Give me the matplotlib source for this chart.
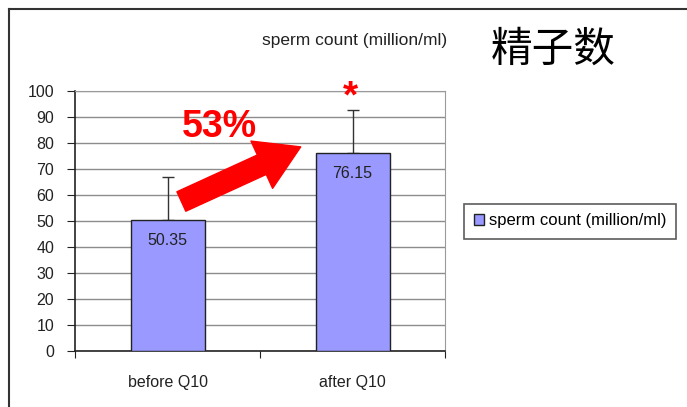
import matplotlib.pyplot as plt
from matplotlib.lines import Line2D

categories = ["before Q10", "after Q10"]
values = [50.35, 76.15]
errors_up = [16.6, 16.6]
yticks = list(range(0, 101, 10))
series_name = "sperm count (million/ml)"

plt.rcParams['font.family'] = ['Liberation Sans', 'DejaVu Sans']

fig = plt.figure(figsize=(6.87, 4.07), dpi=100)
ax = fig.add_axes([75 / 687, 56 / 407, 370 / 687, 260 / 407])

x = range(len(categories))
ax.bar(x, values, width=0.4, color='#9999ff', edgecolor='#222222',
       linewidth=1, label=series_name, zorder=3)
ax.errorbar(x, values, yerr=[[0] * len(values), errors_up], fmt='none',
            ecolor='#333333', elinewidth=1, capsize=4, capthick=1, zorder=2)

# value labels inside the bars
for xi, v in zip(x, values):
    ax.text(xi, v - 8, f"{v:.2f}", ha='center', va='center', fontsize=11.5,
            color='#222222', zorder=4)

ax.set_xlim(-0.5, 1.5)
ax.set_ylim(0, 100)
ax.set_yticks(yticks)
ax.set_xticks([-0.5, 0.5, 1.5])
ax.set_xticklabels([])
ax.set_xticks(list(x), minor=True)
ax.set_xticklabels(categories, minor=True, fontsize=11.5, color='#222222')
ax.tick_params(axis='x', which='minor', length=0, pad=17)
ax.tick_params(axis='x', which='major', direction='out', length=5, color='#222222')
ax.tick_params(axis='y', direction='out', length=6, color='#222222',
               labelsize=11.5, labelcolor='#222222', pad=9)
ax.yaxis.grid(True, color='#8c8c8c', linewidth=1, zorder=0)
ax.set_axisbelow(True)
for s in ['top', 'right']:
    ax.spines[s].set_color('#9a9a9a')
for s in ['left', 'bottom']:
    ax.spines[s].set_color('#222222')
    ax.spines[s].set_linewidth(1.2)

# annotations
ax.text(0.28, 86, "53%", color='#ff0000', fontsize=27, fontweight='bold',
        ha='center', va='center')
ax.text(0.99, 97.5, "*", color='#ff0000', fontsize=28, fontweight='bold',
        ha='center', va='center', clip_on=False)
ax.annotate("", xy=(0.72, 78.5), xytext=(0.075, 57.5),
            arrowprops=dict(arrowstyle='simple,head_length=1.4,head_width=1.7,tail_width=0.7',
                            color='#ff0000', mutation_scale=22, shrinkA=0, shrinkB=0),
            zorder=5)

fig.text(355 / 687, 1 - 40 / 407, series_name, ha='center', va='center',
         fontsize=12.5, color='#222222')
fig.text(553 / 687, 1 - 50 / 407, "精子数", ha='center', va='center',
         fontsize=30, color='black', family=['Noto Sans CJK SC', 'DejaVu Sans'])

leg = fig.legend(handles=[plt.Rectangle((0, 0), 1, 1, facecolor='#9999ff',
                                        edgecolor='#222222', linewidth=1)],
                 labels=[series_name], loc='center', bbox_to_anchor=(570 / 687, 1 - 221 / 407),
                 fontsize=12, frameon=True, fancybox=False, handlelength=0.6,
                 handleheight=0.6, handletextpad=0.3, borderpad=0.6, borderaxespad=0)
leg.get_frame().set_edgecolor('#333333')
leg.get_frame().set_linewidth(1.2)

# outer frame
fig.add_artist(Line2D([9 / 687, 9 / 687], [0, 1 - 9 / 407], color='#333333', linewidth=1.5))
fig.add_artist(Line2D([9 / 687, 1], [1 - 9 / 407, 1 - 9 / 407], color='#333333', linewidth=1.5))

fig.savefig("out.png", dpi=100)
